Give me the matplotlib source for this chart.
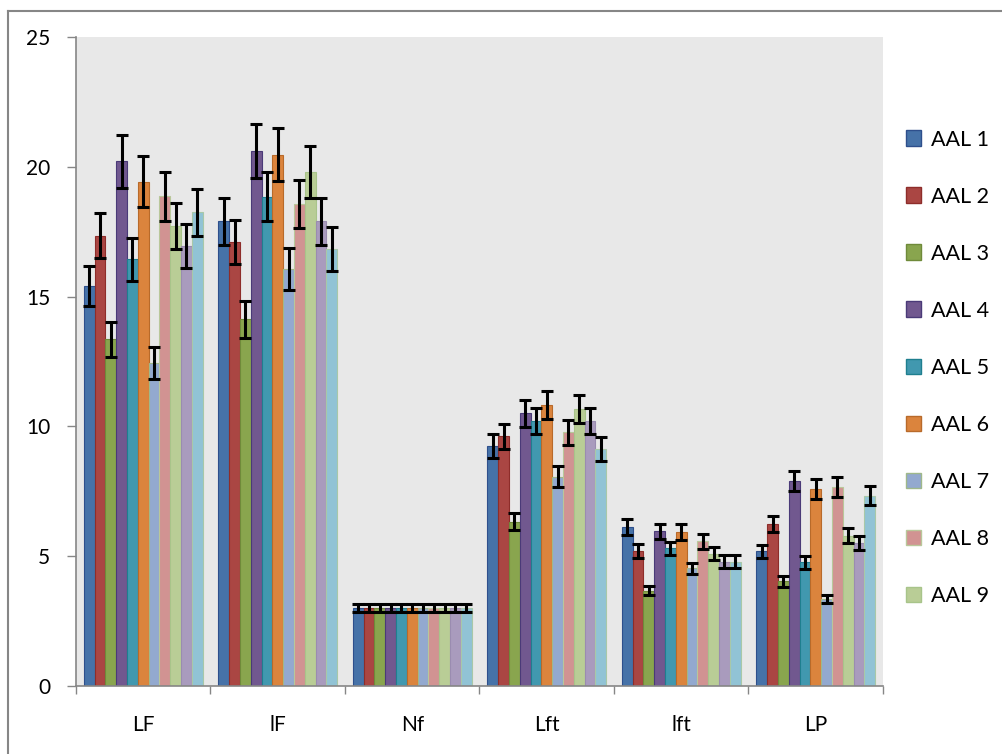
import matplotlib
matplotlib.use("Agg")
import matplotlib.pyplot as plt
import numpy as np
from matplotlib.patches import Patch
from matplotlib.lines import Line2D

categories = ["LF", "lF", "Nf", "Lft", "lft", "LP"]
series_names = ["AAL 1", "AAL 2", "AAL 3", "AAL 4", "AAL 5", "AAL 6",
                "AAL 7", "AAL 8", "AAL 9", "AAL 10", "AAL 11"]

aal1 = [15.4, 17.9, 3.0, 9.24, 6.11, 5.19]
aal2 = [17.35, 17.1, 3.0, 9.62, 5.20, 6.24]
aal3 = [13.35, 14.12, 3.0, 6.33, 3.67, 4.03]
aal4 = [20.21, 20.6, 3.0, 10.5, 5.96, 7.90]
aal5 = [16.43, 18.84, 3.0, 10.21, 5.30, 4.76]
aal6 = [19.43, 20.47, 3.0, 10.82, 5.93, 7.58]
aal7 = [12.45, 16.06, 3.0, 8.06, 4.53, 3.35]
aal8 = [18.87, 18.58, 3.0, 9.77, 5.57, 7.68]
aal9 = [17.72, 19.8, 3.0, 10.66, 5.10, 5.78]
aal10 = [16.95, 17.9, 3.0, 10.21, 4.79, 5.50]
aal11 = [18.25, 16.83, 3.0, 9.12, 4.79, 7.33]
series_values = [aal1, aal2, aal3, aal4, aal5, aal6, aal7, aal8, aal9, aal10, aal11]

# Excel-style percentage error bars
error_percent = 5.0

face_colors = ["#4672A8", "#AA4643", "#89A54E", "#71588F", "#4198AF", "#DB843D",
               "#93A9CF", "#D19392", "#B9CD96", "#A99BBD", "#91C3D5"]
edge_colors = ["#2E4F8C", "#8E2D2A", "#6F8A3A", "#4A3A78", "#1F7F8F", "#B86A2A",
               "#9FB88A", "#B9C79A", "#A8C48A", "#9A8CB0", "#A8C8A8"]

font = ["Lato", "DejaVu Sans"]
plt.rcParams["font.family"] = font

fig = plt.figure(figsize=(10.03, 7.54), dpi=100)
fig.patch.set_facecolor("white")
ax = fig.add_axes([76 / 1003, 1 - 686 / 754, (883 - 76) / 1003, (686 - 37) / 754])
ax.set_facecolor("#E8E8E8")

n = len(series_values)
group_w = 0.884
w = group_w / n
x = np.arange(len(categories))
for i, vals in enumerate(series_values):
    vals = np.asarray(vals)
    pos = x - group_w / 2 + w * (i + 0.5)
    ax.bar(pos, vals, width=w, color=face_colors[i], edgecolor=edge_colors[i],
           linewidth=0.8, zorder=2)
    ax.errorbar(pos, vals, yerr=vals * error_percent / 100.0, fmt="none",
                ecolor="black", elinewidth=2.2, capsize=4.3, capthick=2.2, zorder=3)

ax.set_xlim(-0.5, len(categories) - 0.5)
ax.set_ylim(0, 25)
ax.set_yticks([0, 5, 10, 15, 20, 25])
ax.tick_params(axis="y", length=6.5, width=1, color="#868686", pad=12,
               labelsize=15, labelcolor="black")
ax.set_xticks(np.arange(len(categories) + 1) - 0.5)
ax.set_xticklabels([])
ax.tick_params(axis="x", which="major", length=6, width=1, color="#868686")
ax.set_xticks(x, minor=True)
ax.set_xticklabels(categories, minor=True)
ax.tick_params(axis="x", which="minor", length=0, pad=21, labelsize=15)

for s in ["top", "right"]:
    ax.spines[s].set_visible(False)
for s in ["left", "bottom"]:
    ax.spines[s].set_color("#868686")
    ax.spines[s].set_linewidth(1.2)

# legend (only the first nine entries are visible in the original)
handles = [Patch(facecolor=face_colors[i], edgecolor=edge_colors[i], linewidth=1.0)
           for i in range(9)]
leg = fig.legend(handles, series_names[:9], loc="upper left",
                 bbox_to_anchor=(897 / 1003, 1 - 121 / 754), frameon=False,
                 fontsize=15.5, handlelength=0.72, handleheight=0.72,
                 handletextpad=0.45, labelspacing=1.72, borderaxespad=0)

# chart border (partly cropped in the original)
fig.add_artist(Line2D([8 / 1003, 8 / 1003], [0, 1 - 11 / 754], transform=fig.transFigure,
                      color="#868686", linewidth=1.5))
fig.add_artist(Line2D([8 / 1003, 1], [1 - 11 / 754, 1 - 11 / 754], transform=fig.transFigure,
                      color="#868686", linewidth=1.5))

fig.savefig("out.png", dpi=100)
